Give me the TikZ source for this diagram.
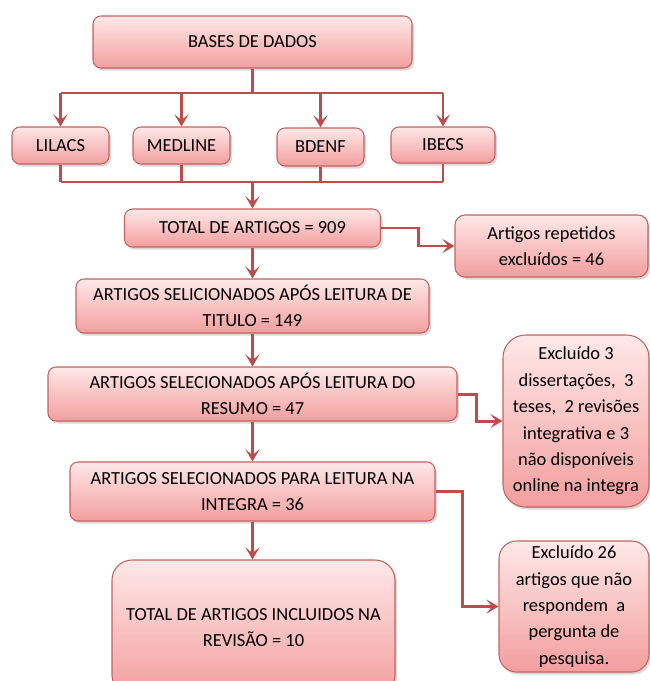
\documentclass[tikz,border=0pt]{standalone}
\usepackage{fontspec}
\setmainfont{Carlito}
\usetikzlibrary{positioning,arrows.meta,shadows}
\definecolor{boxtop}{RGB}{255,232,232}
\definecolor{boxbottom}{RGB}{243,158,158}
\definecolor{boxline}{RGB}{196,98,96}
\definecolor{flowred}{RGB}{190,76,74}
\tikzset{%
  base/.style={draw=boxline, line width=0.6pt, rounded corners=0.16cm,
    top color=boxtop, bottom color=boxbottom, align=center, inner sep=0pt,
    font=\fontsize{10.5}{15}\selectfont,
    drop shadow={opacity=0.3, shadow xshift=0.04cm, shadow yshift=-0.05cm}},% every box
  source/.style={base},% database boxes
  stage/.style={base},% screening stages
  excl/.style={base, rounded corners=0.45cm},% excluded records
  flow/.style={draw=flowred, line width=1.7pt},% connector line
  arrow/.style={flow, -{Stealth[length=2.4mm, width=2.8mm, inset=1.1mm]}}% connector with head
}
\begin{document}
\begin{tikzpicture}
\useasboundingbox (0,0) rectangle (13,-13.62);
\node[source, minimum width=6.38cm, minimum height=1.04cm] (bases) at (5.05,-0.84) {BASES DE DADOS};
\node[source, minimum width=1.94cm, minimum height=0.74cm] (lilacs) at (1.21,-2.91) {LILACS};
\node[source, minimum width=1.94cm, minimum height=0.74cm] (medline) at (3.63,-2.91) {MEDLINE};
\node[source, minimum width=1.74cm, minimum height=0.76cm] (bdenf) at (6.41,-2.94) {BDENF};
\node[source, minimum width=2.08cm, minimum height=0.72cm] (ibecs) at (8.86,-2.90) {IBECS};
\coordinate (bustop) at (5.05,-1.86);
\coordinate (busbot) at (5.05,-3.64);

\node[stage, minimum width=5.12cm, minimum height=0.76cm] (total) at (5.05,-4.56) {TOTAL DE ARTIGOS = 909};
\node[stage, minimum width=7.06cm, minimum height=1.08cm] (titulo) at (5.05,-6.12) {ARTIGOS SELICIONADOS APÓS LEITURA DE\\ TITULO = 149};
\node[stage, minimum width=8.18cm, minimum height=1.08cm] (resumo) at (5.05,-7.88) {ARTIGOS SELECIONADOS APÓS LEITURA DO\\ RESUMO = 47};
\node[stage, minimum width=7.30cm, minimum height=1.18cm] (integra) at (5.05,-9.83) {ARTIGOS SELECIONADOS PARA LEITURA NA\\ INTEGRA = 36};
\node[stage, rounded corners=0.4cm, minimum width=5.66cm, minimum height=2.7cm] (final) at (5.07,-12.55) {TOTAL DE ARTIGOS INCLUIDOS NA\\ REVISÃO = 10};

\node[excl, rounded corners=0.2cm, minimum width=3.86cm, minimum height=1.24cm] (rep) at (11.03,-4.92) {Artigos repetidos\\ excluídos = 46};
\node[excl, minimum width=2.92cm, minimum height=3.44cm] (exca) at (11.52,-8.42) {Excluído 3\\ dissertações,\ \ 3\\ teses,\ \ 2 revisões\\ integrativa e 3\\ não disponíveis\\ online na integra};
\node[excl, rounded corners=0.35cm, minimum width=3.0cm, minimum height=2.62cm] (excb) at (11.48,-12.13) {Excluído 26\\ artigos que não\\ respondem\ \ a\\ pergunta de\\ pesquisa.};

\draw[flow] (bases.south) -- (bustop);
\draw[flow] (bustop -| lilacs) -- (bustop -| ibecs);
\foreach \db in {lilacs, medline, bdenf, ibecs}
  \draw[arrow] (bustop -| \db.north) -- (\db.north);
\foreach \db in {lilacs, medline, bdenf, ibecs}
  \draw[flow] (\db.south) -- (busbot -| \db.south);
\draw[flow] (busbot -| lilacs) -- (busbot -| ibecs);
\draw[arrow] (busbot) -- (total.north);

\draw[arrow] (total) -- (titulo);
\draw[arrow] (titulo) -- (resumo);
\draw[arrow] (resumo) -- (integra);
\draw[arrow] (integra.south) -- (integra.south |- final.north);

\draw[arrow] (total.east) -- ++(0.74,0) |- (rep.west);
\draw[arrow] (resumo.east) -- ++(0.38,0) |- (exca.west);
\draw[arrow] (integra.east) -- ++(0.54,0) |- (excb.west);
\end{tikzpicture}
\end{document}
